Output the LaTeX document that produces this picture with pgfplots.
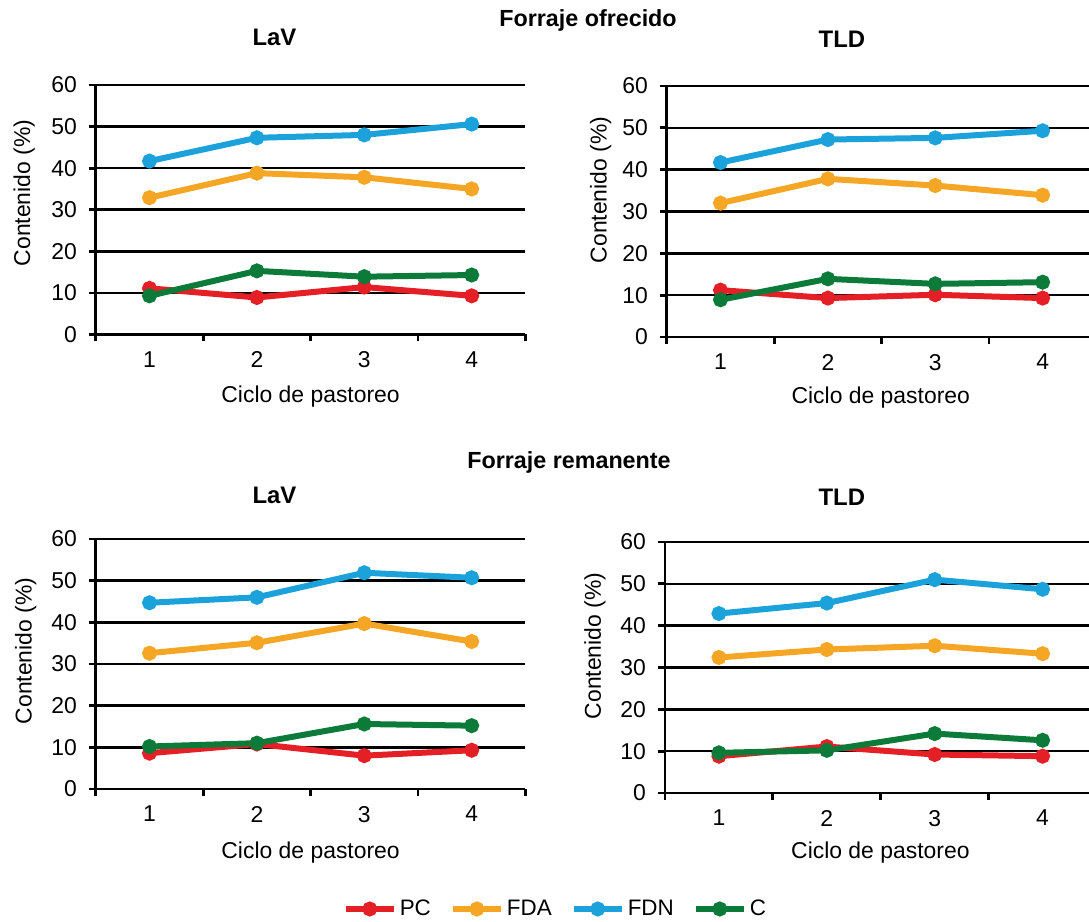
\documentclass[border=0pt]{standalone}
\usepackage{fontspec}
\setmainfont{Liberation Sans}
\usepackage{pgfplots}
\pgfplotsset{compat=1.18}
\definecolor{cPC}{RGB}{228,32,38}
\definecolor{cFDA}{RGB}{244,166,36}
\definecolor{cFDN}{RGB}{28,162,218}
\definecolor{cC}{RGB}{12,122,56}

\pgfplotsset{
  panel/.style={
    scale only axis,
    xmin=0.5, ymin=0, ymax=60,
    axis x line=bottom, axis y line=left,
    axis line style={-, line width=1.4bp, black},
    ytick={0,10,20,30,40,50,60},
    xtick={0.5,1.5,2.5,3.5,4.5},
    xticklabels={},
    extra x ticks={1,2,3,4},
    extra x tick labels={1,2,3,4},
    extra x tick style={major tick length=0pt, grid=none},
    xticklabel style={yshift=-5bp},
    yticklabel style={xshift=-2.5bp},
    tick align=outside,
    major tick length=3.5bp,
    tick style={line width=1.4bp, black},
    ymajorgrids,
    grid style={line width=1.3bp, black},
    ticklabel style={font=\fontsize{11.5}{13}\selectfont},
    /pgf/number format/assume math mode=true,
    label style={font=\fontsize{11.5}{13}\selectfont},
    title style={font=\bfseries\fontsize{12}{14}\selectfont, anchor=center},
    clip=false,
    every axis plot/.append style={line width=3bp, mark=*, mark size=2.2bp},
    xlabel={Ciclo de pastoreo},
    ylabel={Contenido (\%)},
  },
}

\begin{document}
\begin{tikzpicture}
\path[use as bounding box] (0,0) rectangle (544.5bp,461bp);

% ---------------- Forraje ofrecido, LaV
\begin{axis}[panel,
  at={(47.9bp,293.75bp)}, anchor=south west,
  width=214.8bp, height=124.75bp, xmax=4.5,
  title={LaV},
  title style={at={([yshift=18bp]axis description cs:0.416,1)}},
  xlabel style={at={([yshift=-31.25bp]axis description cs:0.5,0)}, anchor=center},
  ylabel style={at={([xshift=-35.75bp]axis description cs:0,0.567)}, anchor=center},
]
\addplot[color=cPC] coordinates {(1,11.1) (2,8.9) (3,11.4) (4,9.3)};
\addplot[color=cFDA] coordinates {(1,32.9) (2,38.8) (3,37.8) (4,35.0)};
\addplot[color=cFDN] coordinates {(1,41.7) (2,47.3) (3,48.0) (4,50.6)};
\addplot[color=cC] coordinates {(1,9.3) (2,15.3) (3,13.9) (4,14.3)};
\end{axis}

% ---------------- Forraje ofrecido, TLD
\begin{axis}[panel,
  at={(333.4bp,292.5bp)}, anchor=south west,
  width=211bp, height=125.5bp, xmax=4.43,
  title={TLD},
  title style={at={([yshift=17.5bp]axis description cs:0.415,1)}},
  xlabel style={at={([yshift=-30.5bp]axis description cs:0.507,0)}, anchor=center},
  ylabel style={at={([xshift=-33bp]axis description cs:0,0.586)}, anchor=center},
]
\addplot[color=cPC] coordinates {(1,11.2) (2,9.3) (3,10.1) (4,9.3)};
\addplot[color=cFDA] coordinates {(1,32.0) (2,37.8) (3,36.2) (4,33.9)};
\addplot[color=cFDN] coordinates {(1,41.7) (2,47.2) (3,47.6) (4,49.3)};
\addplot[color=cC] coordinates {(1,8.9) (2,13.9) (3,12.7) (4,13.1)};
\end{axis}

% ---------------- Forraje remanente, LaV
\begin{axis}[panel,
  at={(47.9bp,66.5bp)}, anchor=south west,
  width=214.8bp, height=125bp, xmax=4.5,
  title={LaV},
  title style={at={([yshift=16bp]axis description cs:0.416,1)}},
  xlabel style={at={([yshift=-32bp]axis description cs:0.5,0)}, anchor=center},
  ylabel style={at={([xshift=-35bp]axis description cs:0,0.552)}, anchor=center},
  legend columns=4,
  legend style={at={(axis description cs:1.071,-0.48)}, anchor=center,
    draw=none, fill=none, inner sep=0pt,
    font=\fontsize{11.25}{13}\selectfont,
    nodes={inner xsep=1.5bp, inner ysep=1bp},
    /tikz/every even column/.append style={column sep=8bp}},
  legend image code/.code={\draw[mark repeat=2,mark phase=2] plot coordinates {(0bp,0bp)(12bp,0bp)(24bp,0bp)};},
]
\addplot[color=cPC] coordinates {(1,8.6) (2,10.8) (3,8.0) (4,9.3)};
\addplot[color=cFDA] coordinates {(1,32.6) (2,35.1) (3,39.7) (4,35.4)};
\addplot[color=cFDN] coordinates {(1,44.7) (2,46.0) (3,51.9) (4,50.7)};
\addplot[color=cC] coordinates {(1,10.2) (2,11.0) (3,15.6) (4,15.2)};
\legend{PC,FDA,FDN,C}
\end{axis}

% ---------------- Forraje remanente, TLD
\begin{axis}[panel,
  at={(332.5bp,64.5bp)}, anchor=south west,
  width=212bp, height=125.5bp, xmax=4.43,
  title={TLD},
  title style={at={([yshift=16.5bp]axis description cs:0.417,1)}},
  xlabel style={at={([yshift=-30bp]axis description cs:0.508,0)}, anchor=center},
  ylabel style={at={([xshift=-35bp]axis description cs:0,0.586)}, anchor=center},
]
\addplot[color=cPC] coordinates {(1,8.8) (2,11.1) (3,9.2) (4,8.8)};
\addplot[color=cFDA] coordinates {(1,32.4) (2,34.3) (3,35.2) (4,33.3)};
\addplot[color=cFDN] coordinates {(1,42.9) (2,45.4) (3,51.0) (4,48.7)};
\addplot[color=cC] coordinates {(1,9.6) (2,10.2) (3,14.2) (4,12.6)};
\end{axis}

\node[font=\bfseries\fontsize{11.7}{14}\selectfont] at (294bp,451bp) {Forraje ofrecido};
\node[font=\bfseries\fontsize{11.7}{14}\selectfont] at (284.5bp,229.75bp) {Forraje remanente};
\end{tikzpicture}
\end{document}
